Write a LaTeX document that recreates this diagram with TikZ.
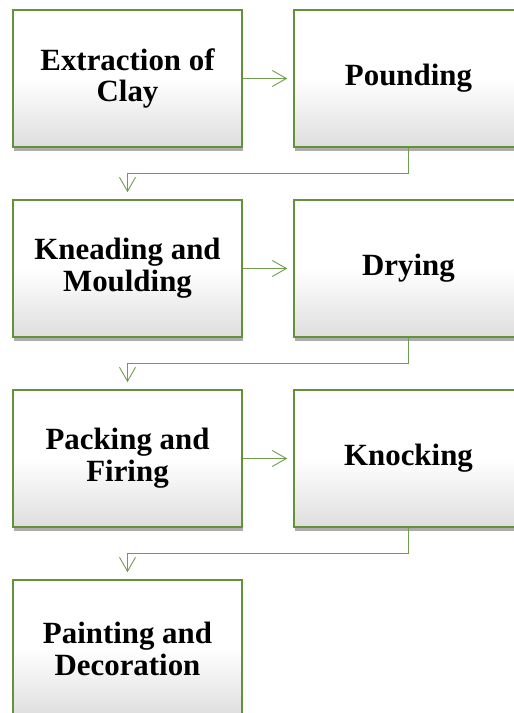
\documentclass[tikz,border=0pt]{standalone}
\usepackage{fontspec}
\setmainfont{Liberation Serif}
\usetikzlibrary{arrows.meta,shadows}

\definecolor{boxgreen}{RGB}{98,146,58}
\definecolor{linegreen}{RGB}{112,158,78}

\tikzset{
  stage/.style={draw=boxgreen, line width=1.6bp, minimum width=229bp,
    minimum height=137bp, inner sep=0pt, align=center,
    font=\bfseries\fontsize{31}{32}\selectfont,
    top color=white, bottom color=black!13, middle color=white,
    drop shadow={shadow xshift=1bp, shadow yshift=-3.5bp, opacity=.5, fill=black!65}},
  link/.style={draw=linegreen, line width=0.9bp,
    -{Straight Barb[length=14bp,width=16bp]}}
}

\begin{document}
\begin{tikzpicture}[x=1bp, y=-1bp]
    \useasboundingbox (0,0) rectangle (514,713);
    \clip (0,0) rectangle (514,713);

    \node[stage] (extract) at (127.5,78.5) {Extraction of\\Clay};
    \node[stage] (pound)   at (408.5,78.5) {Pounding};
    \node[stage] (knead)   at (127.5,268.5) {Kneading and\\Moulding};
    \node[stage] (dry)     at (408.5,268.5) {Drying};
    \node[stage] (pack)    at (127.5,458.5) {Packing and\\Firing};
    \node[stage] (knock)   at (408.5,458.5) {Knocking};
    \node[stage] (paint)   at (127.5,648.5) {Painting and\\Decoration};

    \draw[link, shorten >=6bp] (extract.east) -- (pound.west);
    \draw[link, shorten >=6bp] (knead.east) -- (dry.west);
    \draw[link, shorten >=6bp] (pack.east) -- (knock.west);

    \draw[link, shorten >=7bp] (pound.south) -- ++(0,26) -| (knead.north);
    \draw[link, shorten >=7bp] (dry.south) -- ++(0,26) -| (pack.north);
    \draw[link, shorten >=7bp] (knock.south) -- ++(0,26) -| (paint.north);
\end{tikzpicture}
\end{document}
